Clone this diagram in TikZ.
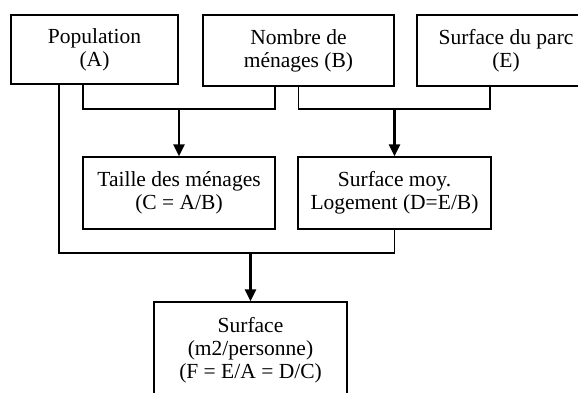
\documentclass[tikz,border=0pt]{standalone}
\usepackage{fontspec}
\setmainfont{Liberation Serif}
\usetikzlibrary{arrows.meta, positioning}

\begin{document}
\begin{tikzpicture}[x=0.5pt, y=-0.5pt,
    >={Triangle[length=6pt, width=5.5pt]},
    box/.style={draw, line width=0.65pt, align=center, inner sep=0pt,
        font=\fontsize{10.75pt}{11.5pt}\selectfont},
    link/.style={line width=0.75pt},
    flow/.style={->, line width=1.3pt}]
    \useasboundingbox (0,0) rectangle (578,392);

    % Nodes
    \node[box, minimum width=83.5pt, minimum height=34.5pt] (pop) at (94.5, 49.5) {Population\\(A)};
    \node[box, minimum width=95.5pt, minimum height=35.5pt] (nom) at (298.5, 50.5) {Nombre de\\ménages (B)};
    \node[box, minimum width=89pt, minimum height=35.5pt] (parc) at (506, 50.5) {Surface du parc\\(E)};
    \node[box, minimum width=96pt, minimum height=36pt] (taille) at (179, 193) {Taille des ménages\\(C = A/B)};
    \node[box, minimum width=96.5pt, minimum height=36pt] (moy) at (394.5, 193) {Surface moy.\\Logement (D=E/B)};
    \node[box, minimum width=96.5pt, minimum height=48pt] (surf) at (250.5, 350) {Surface\\(m2/personne)\\(F = E/A = D/C)};

    % Junctions
    \coordinate (j1) at (179, 109);
    \coordinate (j2) at (394.5, 109);
    \coordinate (j3) at (250.5, 253);

    % Paths
    \draw[link] ([xshift=-5.75pt]pop.south) |- (j1) -| ([xshift=-11.75pt]nom.south);
    \draw[link] (nom.south) |- (j2) -| ([xshift=-8pt]parc.south);
    \draw[link] ([xshift=-17.75pt]pop.south) |- (j3) -| (moy.south);

    \draw[flow] (j1) -- (taille);
    \draw[flow] (j2) -- (moy);
    \draw[flow] (j3) -- (surf);
\end{tikzpicture}
\end{document}
